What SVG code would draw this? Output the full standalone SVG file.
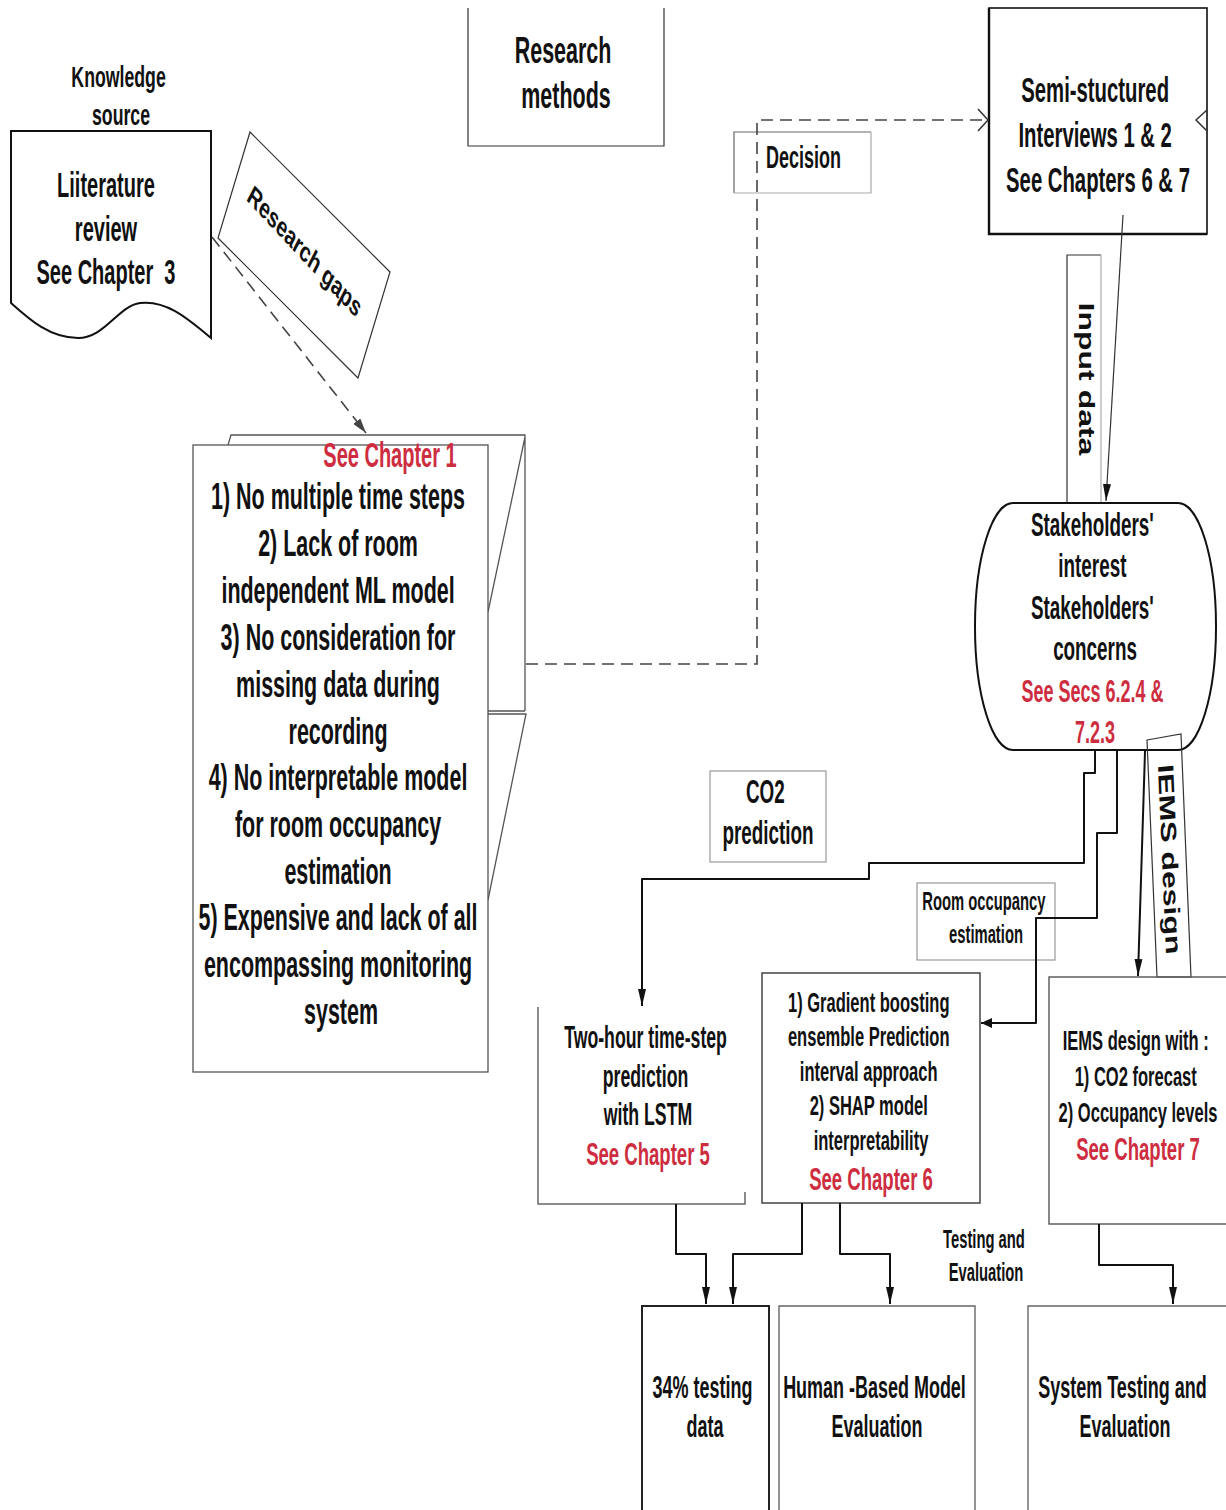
<svg xmlns="http://www.w3.org/2000/svg" width="1226" height="1510" viewBox="0 0 1226 1510">
  <style>
    .t { font-family: "Liberation Sans", Arial, sans-serif; font-weight: bold; fill: #111; text-anchor: middle; }
    .red { fill: #cd2d3f; }
    .box { fill: none; stroke: #555; stroke-width: 1.3; }
    .boxw { fill: #fff; stroke: #555; stroke-width: 1.3; }
    .dark { fill: none; stroke: #111; stroke-width: 2; }
    .edge { fill: none; stroke: #111; stroke-width: 2; stroke-linejoin: round; }
    .thin { fill: none; stroke: #333; stroke-width: 1.2; }
    .dash { fill: none; stroke: #444; stroke-width: 1.6; stroke-dasharray: 12 7; }
  </style>
  <defs>
    <marker id="ah-v" viewBox="0 0 17 8" refX="17" refY="4" markerWidth="17" markerHeight="8" markerUnits="userSpaceOnUse" orient="auto">
      <path d="M0,0 L17,4 L0,8 z" fill="#111"/>
    </marker>
    <marker id="ah-h" viewBox="0 0 11 10" refX="11" refY="5" markerWidth="11" markerHeight="10" markerUnits="userSpaceOnUse" orient="auto">
      <path d="M0,0 L11,5 L0,10 z" fill="#111"/>
    </marker>
    <marker id="ah-d" viewBox="0 0 15 9" refX="15" refY="4.5" markerWidth="15" markerHeight="9" markerUnits="userSpaceOnUse" orient="auto">
      <path d="M0,0 L15,4.5 L0,9 z" fill="#444"/>
    </marker>
    <marker id="open" viewBox="0 0 12 24" refX="11" refY="12" markerWidth="12" markerHeight="24" markerUnits="userSpaceOnUse" orient="auto">
      <path d="M1,1 L11,12 L1,23" fill="none" stroke="#333" stroke-width="1.5"/>
    </marker>
  </defs>

  <rect width="1226" height="1510" fill="#fff"/>

  <!-- knowledge source caption -->
  <g id="knowledge-source">
    <text class="t" style="font-size:30px" transform="matrix(.59 0 0 1 121 0)">
      <tspan x="0" y="87">Knowledge</tspan>
      <tspan x="0" y="125">source</tspan>
    </text>
  </g>

  <!-- literature review document -->
  <g id="literature-review">
    <path class="dark" d="M11,131 H211 V338 C185,316 165,300 140,303 C118,306 105,338 78,338 C50,338 30,320 11,303 Z"/>
    <text class="t" style="font-size:34.5px" xml:space="preserve" transform="matrix(.58 0 0 1 106 0)"><tspan x="0" y="197">Liiterature</tspan><tspan x="0" y="241">review</tspan><tspan x="0" y="284">See Chapter  3</tspan></text>
  </g>

  <!-- research gaps label -->
  <g id="research-gaps">
    <polygon class="thin" points="250,132 390,272 358,378 218,238"/>
    <text class="t" style="font-size:28px" transform="translate(301,259) scale(.69,1) rotate(36.5)" x="0" y="0">Research gaps</text>
  </g>

  <!-- research methods -->
  <g id="research-methods">
    <path class="thin" d="M468,8 V146 H664 V8"/>
    <text class="t" style="font-size:37px" transform="matrix(.58 0 0 1 566 0)">
      <tspan x="0" y="63">Research</tspan>
      <tspan x="0" y="108">methods</tspan>
    </text>
  </g>

  <!-- decision label -->
  <g id="decision">
    <path d="M734,193 V132 H871" fill="none" stroke="#666" stroke-width="1.2"/>
    <path d="M871,132 V193 H734" fill="none" stroke="#aaa" stroke-width="1.2"/>
    <text class="t" style="font-size:31px;text-anchor:start" transform="matrix(.58 0 0 1 766 0)" x="0" y="168">Decision</text>
  </g>

  <!-- semi-structured interviews -->
  <g id="interviews">
    <rect x="989" y="8" width="218" height="226" fill="none" stroke="#111" stroke-width="1.6"/>
    <path d="M989,8 V234 H1207" fill="none" stroke="#111" stroke-width="2.4"/>
    <text class="t" style="font-size:35px" transform="matrix(.58 0 0 1 1098 0)">
      <tspan x="0" y="102">Semi-stuctured</tspan>
      <tspan x="0" y="147">Interviews 1 &amp; 2</tspan>
      <tspan x="0" y="192">See Chapters 6 &amp; 7</tspan>
    </text>
  </g>

  <!-- input data label -->
  <g id="input-data">
    <path d="M1067,502 V255 H1101" fill="none" stroke="#333" stroke-width="1.2"/>
    <path d="M1101,255 V502" fill="none" stroke="#aaa" stroke-width="1.2"/>
    <text class="t" style="font-size:32px" transform="translate(1079,379) scale(.69,1) rotate(90)" x="0" y="0">Input data</text>
  </g>

  <!-- research gaps list -->
  <g id="gaps-list">
    <path class="box" d="M228,445 L231,435 H525 V711 M525,437 L488,612 M488,711 H525 M488,714 H526 L488,900"/>
    <rect class="boxw" x="193" y="445" width="295" height="627"/>
    <text class="t red" style="font-size:34.5px" transform="matrix(.58 0 0 1 390 0)" x="0" y="467">See Chapter 1</text>
    <text class="t" style="font-size:37px" transform="matrix(.58 0 0 1 341 0)">
      <tspan x="0" y="509">1) No multiple time steps</tspan>
      <tspan x="0" y="556">2) Lack of room</tspan>
      <tspan x="0" y="603">independent ML model</tspan>
      <tspan x="0" y="650">3) No consideration for</tspan>
      <tspan x="0" y="697">missing data during</tspan>
      <tspan x="0" y="744">recording</tspan>
      <tspan x="0" y="790">4) No interpretable model</tspan>
      <tspan x="0" y="837">for room occupancy</tspan>
      <tspan x="0" y="884">estimation</tspan>
      <tspan x="0" y="930">5) Expensive and lack of all</tspan>
      <tspan x="0" y="977">encompassing monitoring</tspan>
      <tspan x="0" y="1024">system</tspan>
    </text>
  </g>

  <!-- stakeholders -->
  <g id="stakeholders">
    <rect x="975" y="503" width="241" height="247" rx="38" ry="123" fill="none" stroke="#111" stroke-width="2"/>
    <text class="t" style="font-size:32.5px" transform="matrix(.58 0 0 1 1095 0)">
      <tspan x="0" y="536">Stakeholders'</tspan>
      <tspan x="0" y="577">interest</tspan>
      <tspan x="0" y="619">Stakeholders'</tspan>
      <tspan x="0" y="660">concerns</tspan>
    </text>
    <text class="t red" style="font-size:31px" transform="matrix(.58 0 0 1 1095 0)">
      <tspan x="0" y="702">See Secs 6.2.4 &amp;</tspan>
      <tspan x="0" y="743">7.2.3</tspan>
    </text>
  </g>

  <!-- IEMS design label -->
  <g id="iems-label">
    <polygon class="thin" points="1147,740 1181,734 1191,977 1157,977"/>
    <text class="t" style="font-size:32px" transform="translate(1162,860) scale(.69,1) rotate(86.5)" x="0" y="0">IEMS design</text>
  </g>

  <!-- CO2 prediction label -->
  <g id="co2-label">
    <rect x="710" y="771" width="116" height="91" fill="none" stroke="#999" stroke-width="1.2"/>
    <text class="t" style="font-size:32.5px" transform="matrix(.58 0 0 1 768 0)">
      <tspan x="0" y="803">CO2</tspan>
      <tspan x="0" y="844">prediction</tspan>
    </text>
  </g>

  <!-- room occupancy label -->
  <g id="occupancy-label">
    <rect x="917" y="883" width="138" height="77" fill="none" stroke="#999" stroke-width="1.2"/>
    <text class="t" style="font-size:25.5px" transform="matrix(.58 0 0 1 986 0)">
      <tspan x="0" y="910">Room occupancy</tspan>
      <tspan x="0" y="943">estimation</tspan>
    </text>
  </g>

  <!-- LSTM prediction -->
  <g id="lstm">
    <path d="M538,1007 V1204 H745 V1192" fill="none" stroke="#666" stroke-width="1.5"/>
    <text class="t" style="font-size:30.5px" transform="matrix(.58 0 0 1 648 0)">
      <tspan x="0" y="1048">Two-hour time-step</tspan>
      <tspan x="0" y="1087">prediction</tspan>
      <tspan x="0" y="1125">with LSTM</tspan>
    </text>
    <text class="t red" style="font-size:32px" transform="matrix(.58 0 0 1 648 0)" x="0" y="1165">See Chapter 5</text>
  </g>

  <!-- gradient boosting / SHAP -->
  <g id="gradient-boosting">
    <rect x="762" y="973" width="218" height="230" fill="none" stroke="#444" stroke-width="1.5"/>
    <text class="t" style="font-size:28.5px" transform="matrix(.58 0 0 1 871 0)">
      <tspan x="0" y="1012">1) Gradient boosting</tspan>
      <tspan x="0" y="1046">ensemble Prediction</tspan>
      <tspan x="0" y="1081">interval approach</tspan>
      <tspan x="0" y="1115">2) SHAP model</tspan>
      <tspan x="0" y="1150">interpretability</tspan>
    </text>
    <text class="t red" style="font-size:32px" transform="matrix(.58 0 0 1 871 0)" x="0" y="1190">See Chapter 6</text>
  </g>

  <!-- IEMS design -->
  <g id="iems">
    <rect x="1049" y="977" width="180" height="247" fill="none" stroke="#555" stroke-width="1.4"/>
    <text class="t" style="font-size:28.5px" transform="matrix(.58 0 0 1 1138 0)">
      <tspan x="0" y="1050">IEMS design with :</tspan>
      <tspan x="0" y="1086">1) CO2 forecast</tspan>
      <tspan x="0" y="1122">2) Occupancy levels</tspan>
    </text>
    <text class="t red" style="font-size:32px" transform="matrix(.58 0 0 1 1138 0)" x="0" y="1160">See Chapter 7</text>
  </g>

  <!-- testing and evaluation caption -->
  <g id="testing-caption">
    <text class="t" style="font-size:25.5px" transform="matrix(.58 0 0 1 986 0)">
      <tspan x="0" y="1248">Testing and</tspan>
      <tspan x="0" y="1281">Evaluation</tspan>
    </text>
  </g>

  <!-- evaluation outputs -->
  <g id="testing-data">
    <path d="M642,1512 V1306 H769 V1512" fill="none" stroke="#222" stroke-width="2"/>
    <text class="t" style="font-size:31px" transform="matrix(.58 0 0 1 705 0)">
      <tspan x="0" y="1398">34% testing</tspan>
      <tspan x="0" y="1437">data</tspan>
    </text>
  </g>
  <g id="human-evaluation">
    <path d="M779,1512 V1306 H975 V1512" fill="none" stroke="#666" stroke-width="1.4"/>
    <text class="t" style="font-size:31px" transform="matrix(.58 0 0 1 877 0)">
      <tspan x="0" y="1398">Human -Based Model</tspan>
      <tspan x="0" y="1437">Evaluation</tspan>
    </text>
  </g>
  <g id="system-testing">
    <path d="M1028,1512 V1306 H1228" fill="none" stroke="#666" stroke-width="1.4"/>
    <text class="t" style="font-size:31px" transform="matrix(.58 0 0 1 1125 0)">
      <tspan x="0" y="1398">System Testing and</tspan>
      <tspan x="0" y="1437">Evaluation</tspan>
    </text>
  </g>

  <!-- connectors -->
  <g id="connectors">
    <path class="dash" d="M212,237 L366,433" marker-end="url(#ah-d)"/>
    <path class="dash" d="M526,664 H757 V120 H988" marker-end="url(#open)"/>
    <path d="M1207,110 L1196,120 L1207,131" fill="none" stroke="#333" stroke-width="1.5"/>
    <path class="thin" d="M1123,215 L1106,501" marker-end="url(#ah-v)"/>
    <path class="edge" d="M1095,751 V773 H1084 V863 H869 V879 H642 V1006" marker-end="url(#ah-v)"/>
    <path class="edge" d="M1117,751 V833 H1097 V918 H1036 V1023 H981" marker-end="url(#ah-h)"/>
    <path class="edge" d="M1145,751 L1138,976" marker-end="url(#ah-v)"/>
    <path class="edge" d="M676,1204 V1254 H706 V1304" marker-end="url(#ah-v)"/>
    <path class="edge" d="M802,1203 V1254 H733 V1304" marker-end="url(#ah-v)"/>
    <path class="edge" d="M840,1203 V1254 H890 V1304" marker-end="url(#ah-v)"/>
    <path class="edge" d="M1099,1224 V1265 H1173 V1304" marker-end="url(#ah-v)"/>
  </g>
</svg>
